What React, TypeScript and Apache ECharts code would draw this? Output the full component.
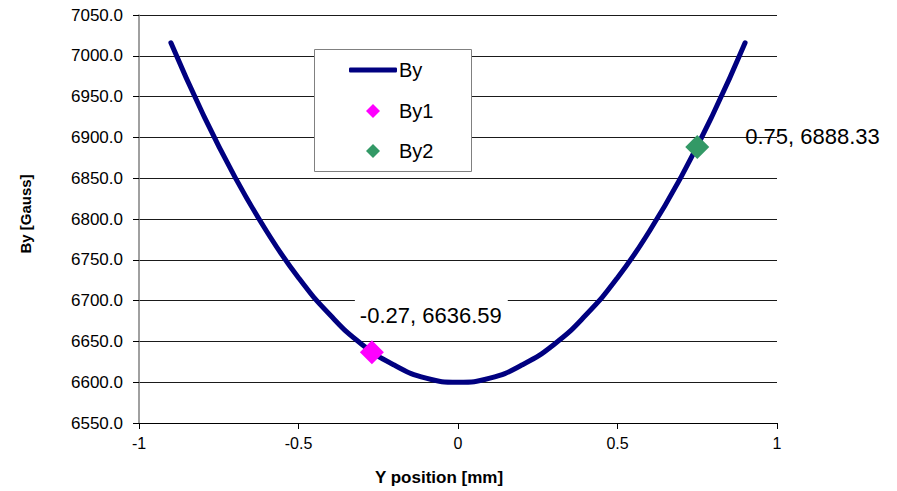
import React, { useEffect, useRef } from "react";
import * as echarts from "echarts";

// Y position [mm] and By [Gauss]
const positions = [-0.9, -0.8, -0.7, -0.6, -0.5, -0.4, -0.3, -0.2, -0.1, 0, 0.1, 0.2, 0.3, 0.4, 0.5, 0.6, 0.7, 0.8, 0.9];
const byValues = [7016, 6929, 6852, 6785, 6728, 6682, 6646, 6621, 6605, 6600, 6605, 6621, 6646, 6682, 6728, 6785, 6852, 6929, 7016];
const by1Point = [-0.27, 6636.59];
const by2Point = [0.75, 6888.33];
const seriesNames = ["By", "By1", "By2"];

const FONT = "'Liberation Sans', Arial, sans-serif";

export default function App() {
  const ref = useRef<HTMLDivElement>(null);
  useEffect(() => {
    if (!ref.current) return;
    const chart = echarts.init(ref.current, undefined, { renderer: "svg" });
    const lineData = positions.map((x, i) => [x, byValues[i]]);
    const legendText = { fontSize: 20, color: "#000", fontFamily: FONT };
    chart.setOption({
      animation: false,
      backgroundColor: "#ffffff",
      textStyle: { fontFamily: FONT },
      grid: { left: 139, right: 120, top: 15, bottom: 68, containLabel: false },
      graphic: [
        {
          type: "rect",
          left: 314,
          top: 49,
          z: 3,
          shape: { width: 157, height: 122 },
          style: { fill: "#ffffff", stroke: "#808080", lineWidth: 1 },
        },
      ],
      legend: [
        {
          left: 349,
          top: 60,
          padding: 0,
          itemWidth: 48,
          itemHeight: 5,
          z: 5,
          textStyle: { ...legendText, padding: [0, 0, 0, -3] },
          data: [{ name: seriesNames[0], icon: "roundRect", itemStyle: { color: "#000080", opacity: 1 } }],
        },
        {
          left: 366,
          top: 101,
          padding: 0,
          itemWidth: 14,
          itemHeight: 14,
          z: 5,
          textStyle: { ...legendText, padding: [0, 0, 0, 14] },
          data: [{ name: seriesNames[1], icon: "diamond", itemStyle: { color: "#FF00FF", opacity: 1 } }],
        },
        {
          left: 366,
          top: 141,
          padding: 0,
          itemWidth: 14,
          itemHeight: 14,
          z: 5,
          textStyle: { ...legendText, padding: [0, 0, 0, 14] },
          data: [{ name: seriesNames[2], icon: "diamond", itemStyle: { color: "#339966", opacity: 1 } }],
        },
      ],
      xAxis: {
        type: "value",
        min: -1,
        max: 1,
        interval: 0.5,
        name: "Y position [mm]",
        nameLocation: "middle",
        nameGap: 46,
        nameTextStyle: { fontSize: 17, fontWeight: "bold", color: "#000", fontFamily: FONT, padding: [0, 38, 0, 0] },
        axisLine: { onZero: false, lineStyle: { color: "#000", width: 1 } },
        axisTick: { show: true, inside: false, length: 6, lineStyle: { color: "#000" } },
        axisLabel: { fontSize: 16, color: "#000", margin: 12, fontFamily: FONT },
        splitLine: { show: false },
      },
      yAxis: {
        type: "value",
        min: 6550,
        max: 7050,
        interval: 50,
        name: "By [Gauss]",
        nameLocation: "middle",
        nameGap: 106,
        nameTextStyle: { fontSize: 15, fontWeight: "bold", color: "#000", fontFamily: FONT, padding: [0, 0, 0, 10] },
        axisLine: { show: true, onZero: false, lineStyle: { color: "#808080", width: 1.5 } },
        axisTick: { show: true, inside: false, length: 6, lineStyle: { color: "#000" } },
        axisLabel: {
          fontSize: 17,
          color: "#000",
          margin: 16,
          fontFamily: FONT,
          formatter: (v: number) => v.toFixed(1),
        },
        splitLine: { show: true, lineStyle: { color: "#1a1a1a", width: 1 } },
      },
      series: [
        {
          name: seriesNames[0],
          type: "line",
          data: lineData,
          smooth: true,
          showSymbol: false,
          symbol: "none",
          lineStyle: { color: "#000080", width: 5, cap: "round" },
          itemStyle: { color: "#000080" },
          z: 2,
        },
        {
          name: seriesNames[1],
          type: "scatter",
          data: [by1Point],
          symbol: "diamond",
          symbolSize: 24,
          itemStyle: { color: "#FF00FF", opacity: 1 },
          z: 3,
          label: {
            show: true,
            position: [-5, -25],
            align: "left",
            verticalAlign: "middle",
            formatter: "{@[0]}, {@[1]}",
            fontSize: 22,
            color: "#000",
            fontFamily: FONT,
            backgroundColor: "#ffffff",
            padding: [5, 6, 5, 5],
          },
        },
        {
          name: seriesNames[2],
          type: "scatter",
          data: [by2Point],
          symbol: "diamond",
          symbolSize: 24,
          itemStyle: { color: "#339966", opacity: 1 },
          z: 3,
          label: {
            show: true,
            position: [60, 2],
            align: "left",
            verticalAlign: "middle",
            formatter: "{@[0]}, {@[1]}",
            fontSize: 22,
            color: "#000",
            fontFamily: FONT,
          },
        },
      ],
    });
    return () => chart.dispose();
  }, []);
  return (
    <div
      ref={ref}
      style={{ position: "fixed", left: 0, top: 0, width: 897, height: 491 }}
    />
  );
}
